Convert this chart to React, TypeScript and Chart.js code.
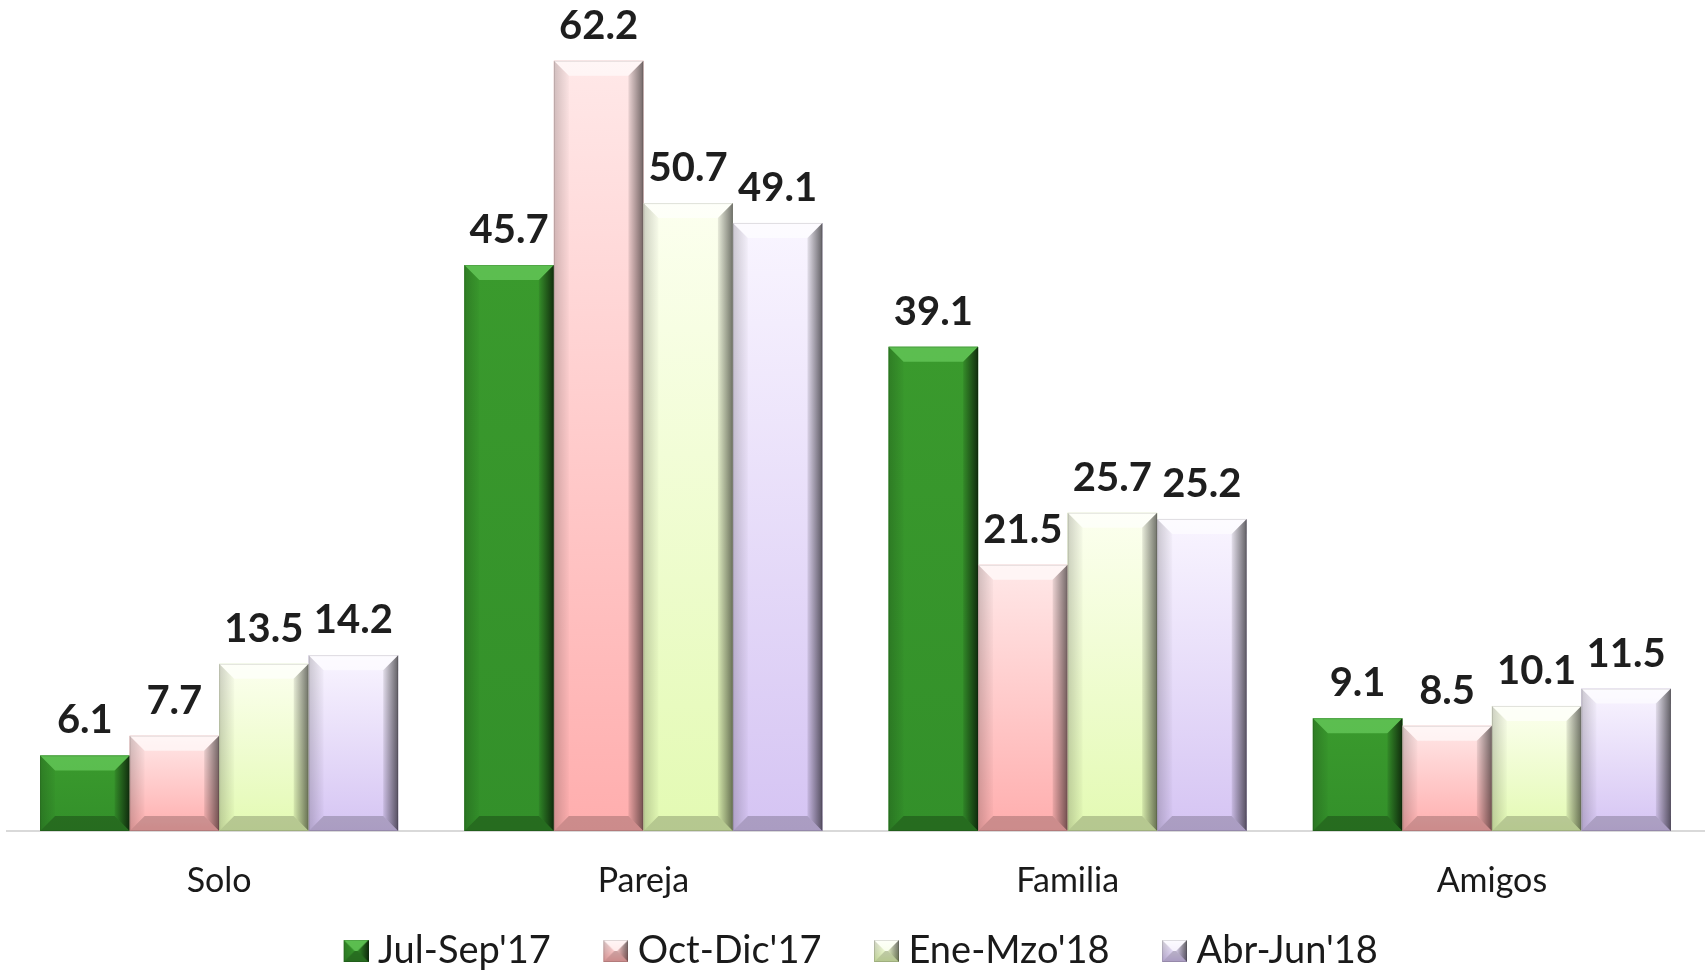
import React, { useEffect, useRef } from "react";
import { Chart, registerables } from "chart.js";

Chart.register(...registerables);

const categories = ["Solo", "Pareja", "Familia", "Amigos"];
const seriesNames = ["Jul-Sep'17", "Oct-Dic'17", "Ene-Mzo'18", "Abr-Jun'18"];
const julSep17 = [6.1, 45.7, 39.1, 9.1];
const octDic17 = [7.7, 62.2, 21.5, 8.5];
const eneMzo18 = [13.5, 50.7, 25.7, 10.1];
const abrJun18 = [14.2, 49.1, 25.2, 11.5];
const seriesValues = [julSep17, octDic17, eneMzo18, abrJun18];

const palette = [
  { main: "#36922a", top: "#3a9a2d", bottom: "#33902a", light: "rgba(120,220,110,0.55)", dark: 0.7, bottomShade: 0.25 },
  { main: "#ffb3b3", top: "#ffe8e8", bottom: "#ffaeae", light: "rgba(255,255,255,0.6)", dark: 0.55, bottomShade: 0.2 },
  { main: "#e8fbbd", top: "#fcffef", bottom: "#e3fab3", light: "rgba(255,255,255,0.6)", dark: 0.55, bottomShade: 0.2 },
  { main: "#d8c8f4", top: "#f9f5ff", bottom: "#d5c4f3", light: "rgba(255,255,255,0.6)", dark: 0.6, bottomShade: 0.2 },
];

const LEGEND_BOX_W = 25;
const LEGEND_BOX_H = 22;
const LEGEND_MARGIN = 52;

function poly(ctx: CanvasRenderingContext2D, pts: number[][], fill: any) {
  ctx.beginPath();
  ctx.moveTo(pts[0][0], pts[0][1]);
  for (let i = 1; i < pts.length; i++) ctx.lineTo(pts[i][0], pts[i][1]);
  ctx.closePath();
  ctx.fillStyle = fill;
  ctx.fill();
}

function drawBevel(ctx: CanvasRenderingContext2D, l: number, t: number, r: number, b: number, c: any, bevelMax: number) {
  const w = r - l;
  const h = b - t;
  if (w <= 0 || h <= 0) return;
  const bv = Math.min(bevelMax, w / 2, h / 2);
  const g = ctx.createLinearGradient(0, t, 0, b);
  g.addColorStop(0, c.top);
  g.addColorStop(1, c.bottom);
  ctx.fillStyle = g;
  ctx.fillRect(l, t, w, h);
  poly(ctx, [[l, t], [r, t], [r - bv, t + bv], [l + bv, t + bv]], c.light);
  const gl = ctx.createLinearGradient(l, 0, l + bv, 0);
  gl.addColorStop(0, "rgba(0,0,0,0.18)");
  gl.addColorStop(1, "rgba(0,0,0,0.02)");
  poly(ctx, [[l, t], [l + bv, t + bv], [l + bv, b - bv], [l, b]], gl);
  const gr = ctx.createLinearGradient(r - bv, 0, r, 0);
  gr.addColorStop(0, "rgba(0,0,0,0.08)");
  gr.addColorStop(1, `rgba(0,0,0,${c.dark})`);
  poly(ctx, [[r, t], [r, b], [r - bv, b - bv], [r - bv, t + bv]], gr);
  poly(ctx, [[l, b], [l + bv, b - bv], [r - bv, b - bv], [r, b]], `rgba(0,0,0,${c.bottomShade})`);
  ctx.strokeStyle = "rgba(0,0,0,0.12)";
  ctx.lineWidth = 1;
  ctx.strokeRect(l + 0.5, t + 0.5, w - 1, h - 1);
}

function makeLegendImage(c: any) {
  const cv = document.createElement("canvas");
  cv.width = LEGEND_BOX_W + LEGEND_MARGIN;
  cv.height = LEGEND_BOX_H;
  const ctx = cv.getContext("2d")!;
  drawBevel(ctx, LEGEND_MARGIN, 0, LEGEND_MARGIN + LEGEND_BOX_W, LEGEND_BOX_H, c, LEGEND_BOX_H / 2);
  return cv;
}

const legendShiftPlugin = {
  id: "legendShift",
  afterLayout(chart: any) {
    if (chart.legend) {
      chart.legend.left -= 16;
      chart.legend.right -= 16;
    }
  },
};

const bevelPlugin = {
  id: "bevelBars",
  afterDatasetsDraw(chart: any) {
    const ctx = chart.ctx as CanvasRenderingContext2D;
    ctx.save();
    chart.data.datasets.forEach((ds: any, i: number) => {
      const meta = chart.getDatasetMeta(i);
      meta.data.forEach((bar: any) => {
        const p = bar.getProps(["x", "y", "base", "width"], true);
        drawBevel(ctx, p.x - p.width / 2, p.y, p.x + p.width / 2, p.base, palette[i], 15);
      });
    });
    ctx.font = "bold 40px Lato, 'Open Sans', sans-serif";
    ctx.fillStyle = "#1e1e1e";
    ctx.textAlign = "center";
    ctx.textBaseline = "alphabetic";
    chart.data.datasets.forEach((ds: any, i: number) => {
      const meta = chart.getDatasetMeta(i);
      meta.data.forEach((bar: any, j: number) => {
        const p = bar.getProps(["x", "y"], true);
        ctx.fillText(ds.data[j].toFixed(1), p.x, p.y - 22);
      });
    });
    ctx.restore();
  },
};

export default function App() {
  const ref = useRef<HTMLCanvasElement | null>(null);
  useEffect(() => {
    let chart: Chart | null = null;
    let cancelled = false;
    const build = () => {
      if (cancelled || !ref.current) return;
      chart = new Chart(ref.current, {
        type: "bar",
        data: {
          labels: categories,
          datasets: seriesNames.map((name, i) => ({
            label: name,
            data: seriesValues[i],
            backgroundColor: palette[i].main,
            borderWidth: 0,
            pointStyle: makeLegendImage(palette[i]) as any,
            barPercentage: 1,
            categoryPercentage: 0.844,
          })),
        },
        options: {
          animation: false,
          responsive: false,
          layout: { padding: { left: 7, right: 1, top: 0, bottom: 0 } },
          scales: {
            x: {
              grid: { display: false, drawTicks: false },
              border: { display: true, color: "#d9d9d9", width: 2 },
              ticks: {
                padding: 30,
                color: "#1a1a1a",
                font: { family: "Lato, 'Open Sans', sans-serif", size: 34 },
              },
              afterFit: (scale: any) => {
                scale.height = 91;
              },
            },
            y: { display: false, min: 0, max: 67.1 },
          },
          plugins: {
            tooltip: { enabled: false },
            legend: {
              position: "bottom",
              maxHeight: 51,
              labels: {
                usePointStyle: true,
                pointStyleWidth: LEGEND_MARGIN + 6,
                padding: 10,
                color: "#1a1a1a",
                font: { family: "Lato, 'Open Sans', sans-serif", size: 38 },
              },
            } as any,
          },
        },
        plugins: [bevelPlugin, legendShiftPlugin],
      });
    };
    const fontsApi = (document as any).fonts;
    if (fontsApi && fontsApi.load) {
      Promise.all([fontsApi.load("38px Lato"), fontsApi.load("bold 40px Lato")])
        .catch(() => null)
        .then(build);
    } else build();
    return () => {
      cancelled = true;
      if (chart) chart.destroy();
    };
  }, []);
  return (
    <div style={{ position: "absolute", left: 0, top: 0, width: 1705, height: 973, background: "#fff" }}>
      <canvas ref={ref} width={1705} height={973} style={{ display: "block" }} />
    </div>
  );
}
